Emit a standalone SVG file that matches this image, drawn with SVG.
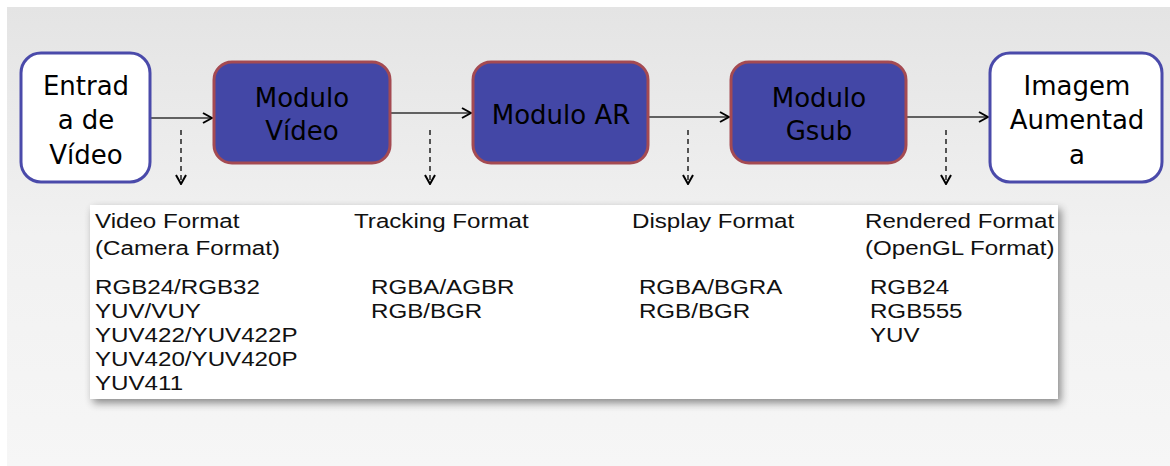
<svg xmlns="http://www.w3.org/2000/svg" width="1170" height="466" viewBox="0 0 1170 466">
<defs>
<linearGradient id="bg" x1="0" y1="0" x2="0" y2="1">
<stop offset="0" stop-color="#e4e4e4"/>
<stop offset="0.5" stop-color="#f1f1f1"/>
<stop offset="1" stop-color="#f6f6f6"/>
</linearGradient>
<filter id="sh" x="-5%" y="-10%" width="110%" height="130%">
<feGaussianBlur in="SourceAlpha" stdDeviation="4"/>
<feOffset dx="3" dy="4"/>
<feComponentTransfer><feFuncA type="linear" slope="0.45"/></feComponentTransfer>
<feMerge><feMergeNode/><feMergeNode in="SourceGraphic"/></feMerge>
</filter>
<marker id="ah" viewBox="0 0 12 12" refX="11" refY="6" markerWidth="12" markerHeight="12" markerUnits="userSpaceOnUse" orient="auto">
<path d="M2,1 L11,6 L2,11" fill="none" stroke="#000" stroke-width="2"/>
</marker>
</defs>
<style>
.io{fill:#fff;stroke:#4a4aaa;stroke-width:3}
.mod{fill:#4347a6;stroke:#a44a52;stroke-width:3}
.nt{font-family:"DejaVu Sans",sans-serif;font-size:26px;fill:#000;text-anchor:middle}
.flow{stroke:#333;stroke-width:1.5;fill:none}
.dash{stroke:#222;stroke-width:1.5;stroke-dasharray:5,4;fill:none}
.pt{font-family:"Liberation Sans",Arial,sans-serif;font-size:21px;fill:#111}
</style>
<rect x="0" y="0" width="1170" height="466" fill="#fff"/>
<rect x="7" y="7" width="1163" height="459" fill="url(#bg)"/>

<g id="connectors">
<line class="flow" x1="151" y1="118" x2="212" y2="118" marker-end="url(#ah)"/>
<line class="flow" x1="391" y1="113" x2="471" y2="113" marker-end="url(#ah)"/>
<line class="flow" x1="649" y1="117" x2="729" y2="117" marker-end="url(#ah)"/>
<line class="flow" x1="907" y1="117" x2="988" y2="117" marker-end="url(#ah)"/>
<line class="dash" x1="181" y1="130" x2="181" y2="184" marker-end="url(#ah)"/>
<line class="dash" x1="430" y1="130" x2="430" y2="184" marker-end="url(#ah)"/>
<line class="dash" x1="688" y1="130" x2="688" y2="184" marker-end="url(#ah)"/>
<line class="dash" x1="946" y1="130" x2="946" y2="184" marker-end="url(#ah)"/>
</g>

<g id="entrada">
<rect class="io" x="21" y="53" width="129" height="129" rx="20"/>
<text class="nt"><tspan x="86" y="95">Entrad</tspan><tspan x="86" y="129">a de</tspan><tspan x="86" y="164">Vídeo</tspan></text>
</g>
<g id="modulo-video">
<rect class="mod" x="214" y="62" width="176" height="101" rx="18"/>
<text class="nt"><tspan x="302" y="107">Modulo</tspan><tspan x="302" y="140">Vídeo</tspan></text>
</g>
<g id="modulo-ar">
<rect class="mod" x="473" y="62" width="175" height="101" rx="18"/>
<text class="nt" x="561" y="124">Modulo AR</text>
</g>
<g id="modulo-gsub">
<rect class="mod" x="731" y="62" width="175" height="101" rx="18"/>
<text class="nt"><tspan x="819" y="107">Modulo</tspan><tspan x="819" y="140">Gsub</tspan></text>
</g>
<g id="imagem">
<rect class="io" x="990" y="53" width="172" height="129" rx="20"/>
<text class="nt"><tspan x="1077" y="95">Imagem</tspan><tspan x="1077" y="129">Aumentad</tspan><tspan x="1077" y="164">a</tspan></text>
</g>

<g id="formats">
<rect x="90" y="205" width="968" height="194" fill="#fff" filter="url(#sh)"/>
<text class="pt" transform="translate(95,0) scale(1.15,1)"><tspan x="0" y="228">Video Format</tspan><tspan x="0" y="255">(Camera Format)</tspan><tspan x="0" y="294">RGB24/RGB32</tspan><tspan x="0" y="318">YUV/VUY</tspan><tspan x="0" y="342">YUV422/YUV422P</tspan><tspan x="0" y="366">YUV420/YUV420P</tspan><tspan x="0" y="390">YUV411</tspan></text>
<text class="pt" transform="translate(354,0) scale(1.15,1)"><tspan x="0" y="228">Tracking Format</tspan><tspan x="14.8" y="294">RGBA/AGBR</tspan><tspan x="14.8" y="318">RGB/BGR</tspan></text>
<text class="pt" transform="translate(632,0) scale(1.15,1)"><tspan x="0" y="228">Display Format</tspan><tspan x="6" y="294">RGBA/BGRA</tspan><tspan x="6" y="318">RGB/BGR</tspan></text>
<text class="pt" transform="translate(865,0) scale(1.15,1)"><tspan x="0" y="228">Rendered Format</tspan><tspan x="0" y="255">(OpenGL Format)</tspan><tspan x="4.3" y="294">RGB24</tspan><tspan x="4.3" y="318">RGB555</tspan><tspan x="4.3" y="342">YUV</tspan></text>
</g>
</svg>
